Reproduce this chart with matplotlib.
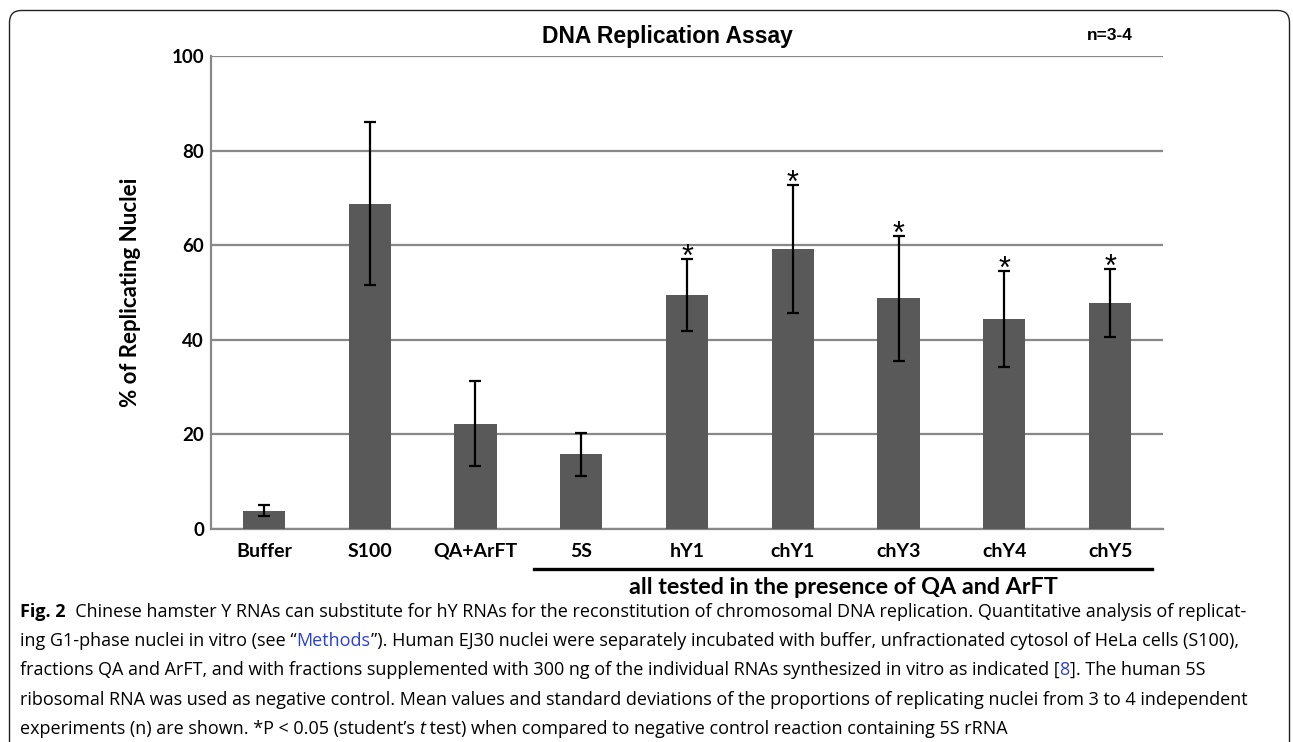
import numpy as np
import matplotlib.pyplot as plt
from matplotlib.patches import FancyBboxPatch
from matplotlib.transforms import IdentityTransform

# Data
samples = ['Buffer', 'S100', 'QA+ArFT', '5S', 'hY1', 'chY1', 'chY3', 'chY4', 'chY5']
means = [3.9, 68.8, 22.3, 15.8, 49.5, 59.2, 48.8, 44.4, 47.8]
sds = [1.1, 17.2, 9.0, 4.5, 7.6, 13.6, 13.2, 10.2, 7.2]
significant = [False, False, False, False, True, True, True, True, True]

W, H = 1293, 742
fig = plt.figure(figsize=(W / 100, H / 100), dpi=100)

# rounded frame of the figure panel (open below the image)
frame = FancyBboxPatch((9.5, -40), 1280, 742 + 40 - 10.5,
                       boxstyle='round,pad=0,rounding_size=12',
                       transform=IdentityTransform(), fill=False,
                       edgecolor='#222222', linewidth=1.0)
fig.patches.append(frame)

ax = fig.add_axes([211 / W, 1 - 529 / H, 952 / W, 473 / H])
x = np.arange(len(samples))
ax.bar(x, means, width=0.4, color='#595959', zorder=3)
ax.errorbar(x, means, yerr=sds, fmt='none', ecolor='black', elinewidth=1.6,
            capsize=4, capthick=1.6, zorder=4)

for xi, m, s, sig in zip(x, means, sds, significant):
    if sig:
        ax.annotate('*', (xi, m + s), xytext=(0, -10), textcoords='offset points',
                    ha='center', va='bottom', fontsize=22,
                    family='Liberation Sans', zorder=5)

ax.set_xlim(-0.5, len(samples) - 0.5)
ax.set_ylim(0, 100)
ax.set_yticks([0, 20, 40, 60, 80, 100])
ax.yaxis.grid(True, color='#888888', linewidth=1.6, zorder=0)
ax.set_axisbelow(True)
for side in ['top', 'right']:
    ax.spines[side].set_visible(False)
for side in ['left', 'bottom']:
    ax.spines[side].set_color('#888888')
    ax.spines[side].set_linewidth(1.6)
ax.tick_params(axis='x', length=0, pad=10)
ax.tick_params(axis='y', length=0, pad=5)
ax.set_xticks(x)
ax.set_xticklabels(samples, family='Lato', fontweight='bold', fontsize=14)
for lab in ax.get_yticklabels():
    lab.set_family('Lato')
    lab.set_fontweight('bold')
    lab.set_fontsize(13.5)
ax.set_ylabel('% of Replicating Nuclei', family='Lato', fontweight='bold',
              fontsize=16, labelpad=22)

fig.text(667 / W, 1 - 36 / H, 'DNA Replication Assay', ha='center', va='center',
         family='Liberation Sans', fontweight='bold', fontsize=16.5)
fig.text(1110 / W, 1 - 36 / H, 'n=3-4', ha='center', va='center',
         family='Liberation Sans', fontweight='bold', fontsize=12.5)

# bracket line under the QA/ArFT group
fig.add_artist(plt.Line2D([534 / W, 1152 / W], [1 - 569 / H, 1 - 569 / H],
                          color='black', linewidth=2.4))
fig.text(843 / W, 1 - 587 / H, 'all tested in the presence of QA and ArFT',
         ha='center', va='center', family='Lato', fontweight='bold', fontsize=16.8)

# caption
cap_lines = [
    [('Fig. 2', 'black', 'bold', 'normal'),
     ('  Chinese hamster Y RNAs can substitute for hY RNAs for the reconstitution of '
      'chromosomal DNA replication. Quantitative analysis of replicat-', 'black', 'normal', 'normal')],
    [('ing G1-phase nuclei in vitro (see \u201c', 'black', 'normal', 'normal'),
     ('Methods', '#2a3fd6', 'normal', 'normal'),
     ('\u201d). Human EJ30 nuclei were separately incubated with buffer, unfractionated '
      'cytosol of HeLa cells (S100),', 'black', 'normal', 'normal')],
    [('fractions QA and ArFT, and with fractions supplemented with 300 ng of the individual '
      'RNAs synthesized in vitro as indicated [', 'black', 'normal', 'normal'),
     ('8', '#2a3fd6', 'normal', 'normal'),
     (']. The human 5S', 'black', 'normal', 'normal')],
    [('ribosomal RNA was used as negative control. Mean values and standard deviations of '
      'the proportions of replicating nuclei from 3 to 4 independent', 'black', 'normal', 'normal')],
    [('experiments (n) are shown. *P < 0.05 (student\u2019s ', 'black', 'normal', 'normal'),
     ('t', 'black', 'normal', 'italic'),
     (' test) when compared to negative control reaction containing 5S rRNA',
      'black', 'normal', 'normal')],
]
cap_y = [612, 641, 670, 700, 729]
for pieces, yy in zip(cap_lines, cap_y):
    prev = None
    for txt, col, wt, st in pieces:
        kw = dict(color=col, fontweight=wt, fontstyle=st, family='Open Sans',
                  fontsize=13.0)
        if prev is None:
            prev = fig.text(20 / W, 1 - yy / H, txt, ha='left', va='center', **kw)
        else:
            prev = ax.annotate(txt, xy=(1, 0), xycoords=prev, ha='left',
                               va='bottom', annotation_clip=False, **kw)

fig.savefig('out.png', dpi=100)
